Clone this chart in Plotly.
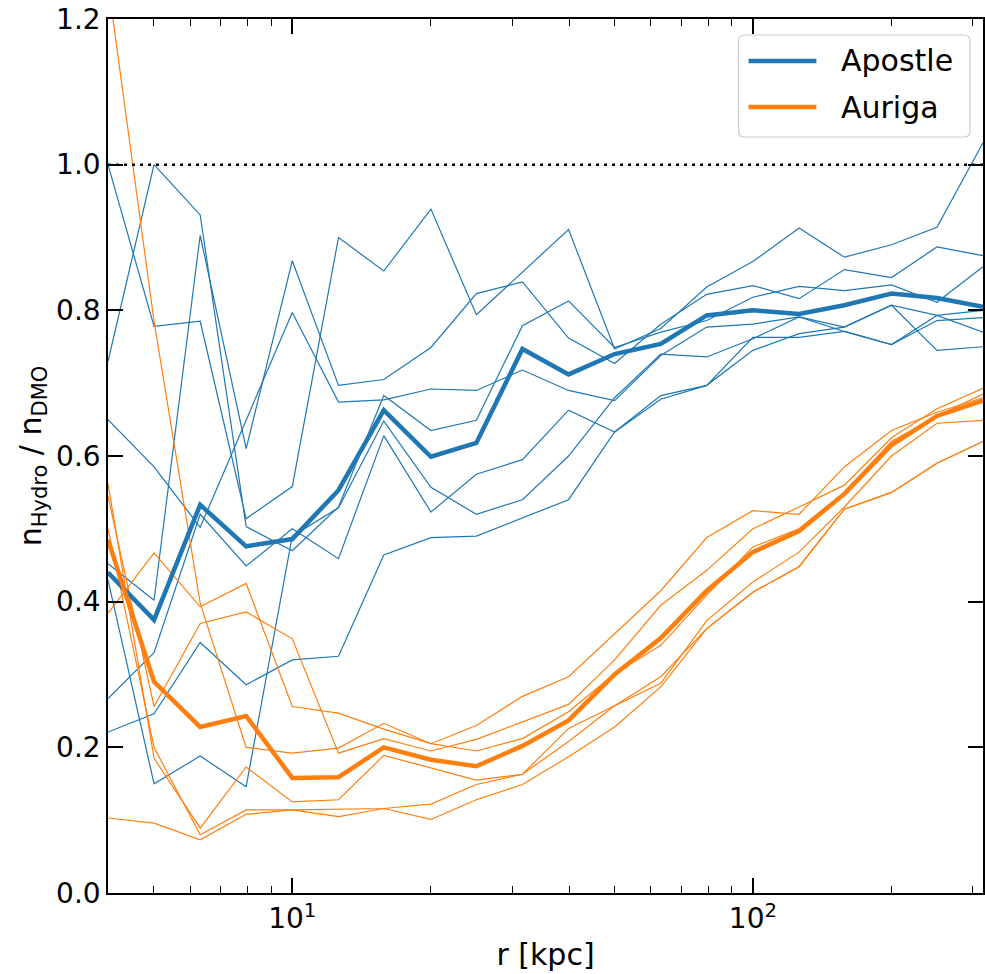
import numpy as np
import plotly.graph_objects as go

# Radial bins (kpc), logarithmically spaced
r = [3.98, 5.01, 6.31, 7.94, 10.0, 12.6, 15.8, 20.0, 25.1, 31.6,
     39.8, 50.1, 63.1, 79.4, 100.0, 126.0, 158.0, 200.0, 251.0, 316.0]

# Apostle: individual haloes
apostle_halos = [
    [1.000, 0.778, 0.785, 0.514, 0.558, 0.900, 0.854, 0.939, 0.794, 0.852,
     0.911, 0.747, 0.775, 0.832, 0.867, 0.913, 0.873, 0.890, 0.914, 1.030],
    [0.452, 0.402, 0.903, 0.610, 0.868, 0.697, 0.705, 0.749, 0.823, 0.839,
     0.762, 0.727, 0.781, 0.822, 0.834, 0.816, 0.856, 0.845, 0.887, 0.875],
    [0.730, 1.000, 0.931, 0.503, 0.470, 0.530, 0.683, 0.635, 0.649, 0.779,
     0.813, 0.749, 0.770, 0.786, 0.818, 0.833, 0.827, 0.835, 0.811, 0.860],
    [0.650, 0.585, 0.502, 0.650, 0.797, 0.674, 0.677, 0.692, 0.690, 0.718,
     0.690, 0.676, 0.738, 0.777, 0.781, 0.791, 0.777, 0.807, 0.793, 0.800],
    [0.267, 0.330, 0.520, 0.449, 0.500, 0.459, 0.628, 0.523, 0.575, 0.595,
     0.663, 0.633, 0.678, 0.697, 0.763, 0.763, 0.771, 0.753, 0.786, 0.790],
    [0.221, 0.246, 0.344, 0.286, 0.320, 0.325, 0.464, 0.488, 0.490, 0.515,
     0.540, 0.633, 0.683, 0.697, 0.745, 0.768, 0.777, 0.807, 0.745, 0.750],
    [0.430, 0.150, 0.188, 0.146, 0.490, 0.529, 0.648, 0.557, 0.520, 0.540,
     0.600, 0.680, 0.740, 0.736, 0.761, 0.791, 0.771, 0.753, 0.793, 0.770],
]
apostle_mean = [0.440, 0.375, 0.533, 0.476, 0.486, 0.553, 0.663, 0.599, 0.618, 0.747,
                0.712, 0.740, 0.754, 0.793, 0.800, 0.795, 0.807, 0.823, 0.817, 0.805]

# Auriga: individual haloes
auriga_halos = [
    [1.250, 0.785, 0.398, 0.200, 0.192, 0.199, 0.233, 0.205, 0.195, 0.212,
     0.249, 0.301, 0.340, 0.409, 0.475, 0.500, 0.550, 0.620, 0.655, 0.685],
    [0.384, 0.467, 0.393, 0.425, 0.256, 0.247, 0.225, 0.205, 0.230, 0.270,
     0.297, 0.356, 0.415, 0.488, 0.525, 0.520, 0.585, 0.635, 0.660, 0.680],
    [0.545, 0.256, 0.370, 0.386, 0.349, 0.192, 0.212, 0.195, 0.211, 0.235,
     0.259, 0.320, 0.395, 0.443, 0.500, 0.530, 0.560, 0.625, 0.665, 0.693],
    [0.562, 0.185, 0.089, 0.173, 0.125, 0.128, 0.189, 0.172, 0.155, 0.163,
     0.226, 0.257, 0.288, 0.374, 0.427, 0.468, 0.530, 0.600, 0.645, 0.649],
    [0.500, 0.200, 0.080, 0.114, 0.114, 0.115, 0.116, 0.122, 0.149, 0.163,
     0.208, 0.257, 0.297, 0.363, 0.413, 0.448, 0.527, 0.550, 0.590, 0.620],
    [0.103, 0.096, 0.073, 0.108, 0.114, 0.105, 0.116, 0.101, 0.128, 0.149,
     0.187, 0.228, 0.283, 0.363, 0.413, 0.448, 0.527, 0.550, 0.590, 0.620],
]
auriga_mean = [0.485, 0.290, 0.228, 0.243, 0.158, 0.159, 0.200, 0.183, 0.174, 0.202,
               0.237, 0.300, 0.350, 0.415, 0.468, 0.497, 0.548, 0.615, 0.655, 0.676]

legend_labels = ["Apostle", "Auriga"]

x_ticks = [10, 100]
x_ticktext = ["10<sup>1</sup>", "10<sup>2</sup>"]
x_minor = [4, 5, 6, 7, 8, 9, 20, 30, 40, 50, 60, 70, 80, 90, 200, 300]
y_ticks = [0.0, 0.2, 0.4, 0.6, 0.8, 1.0, 1.2]

BLUE = "#1f77b4"
ORANGE = "#ff7f0e"
FONT = "DejaVu Sans"

W, H = 985, 974
ML, MR, MT, MB = 108, 0, 19, 81
PW, PH = W - ML - MR, H - MT - MB


def px(xp):
    """pixel column -> paper x"""
    return (xp - ML) / PW


def py(yp):
    """pixel row -> paper y"""
    return (H - MB - yp) / PH


fig = go.Figure()

for halo in apostle_halos:
    fig.add_trace(go.Scatter(x=r, y=halo, mode="lines", showlegend=False,
                             line=dict(color=BLUE, width=1.2), hoverinfo="skip"))
for halo in auriga_halos:
    fig.add_trace(go.Scatter(x=r, y=halo, mode="lines", showlegend=False,
                             line=dict(color=ORANGE, width=1.2), hoverinfo="skip"))

# unity reference line
fig.add_trace(go.Scatter(x=[r[0], r[-1]], y=[1.0, 1.0], mode="lines", showlegend=False,
                         line=dict(color="black", width=2.5, dash="3px,5px")))

fig.add_trace(go.Scatter(x=r, y=apostle_mean, mode="lines", name=legend_labels[0],
                         showlegend=False, line=dict(color=BLUE, width=4.5)))
fig.add_trace(go.Scatter(x=r, y=auriga_mean, mode="lines", name=legend_labels[1],
                         showlegend=False, line=dict(color=ORANGE, width=4.5)))

axis_common = dict(showline=True, linecolor="black", linewidth=1.5, mirror="allticks",
                   ticks="inside", ticklen=15, tickwidth=1.5, tickcolor="black",
                   showgrid=False, zeroline=False,
                   tickfont=dict(family=FONT, size=28, color="black"))

fig.update_xaxes(type="log", range=[np.log10(3.98), np.log10(316.0)],
                 tickvals=x_ticks, ticktext=x_ticktext,
                 minor=dict(ticks="inside", ticklen=7, tickwidth=1.2, tickcolor="black",
                            tickvals=x_minor, showgrid=False),
                 title=dict(text="r [kpc]", font=dict(family=FONT, size=30, color="black"),
                            standoff=10),
                 **axis_common)
fig.update_yaxes(range=[0, 1.2], tickvals=y_ticks,
                 ticktext=[f"{v:.1f}" for v in y_ticks],
                 title=dict(text="n<sub>Hydro</sub> / n<sub>DMO</sub>",
                            font=dict(family=FONT, size=30, color="black"), standoff=6),
                 **axis_common)

# legend box drawn as a rounded frame with line samples and labels
bx0, bx1, by0, by1, rad = 740, 972, 35, 137, 6
rx, ry = rad / PW, rad / PH
x0, x1, y0, y1 = px(bx0), px(bx1), py(by1), py(by0)
path = (f"M {x0 + rx},{y0} L {x1 - rx},{y0} Q {x1},{y0} {x1},{y0 + ry} "
        f"L {x1},{y1 - ry} Q {x1},{y1} {x1 - rx},{y1} L {x0 + rx},{y1} "
        f"Q {x0},{y1} {x0},{y1 - ry} L {x0},{y0 + ry} Q {x0},{y0} {x0 + rx},{y0} Z")
shapes = [dict(type="path", path=path, xref="paper", yref="paper",
               fillcolor="rgba(255,255,255,0.8)", line=dict(color="#cccccc", width=1.2),
               layer="above")]
annotations = []
for label, color, rowy in zip(legend_labels, [BLUE, ORANGE], [61, 107]):
    shapes.append(dict(type="line", xref="paper", yref="paper",
                       x0=px(750), x1=px(818), y0=py(rowy), y1=py(rowy),
                       line=dict(color=color, width=4.5), layer="above"))
    annotations.append(dict(text=label, xref="paper", yref="paper",
                            x=px(841), y=py(rowy), xanchor="left", yanchor="middle",
                            showarrow=False,
                            font=dict(family=FONT, size=30, color="black")))

fig.update_layout(
    width=W, height=H,
    margin=dict(l=ML, r=MR, t=MT, b=MB),
    plot_bgcolor="white", paper_bgcolor="white",
    font=dict(family=FONT, color="black"),
    showlegend=False,
    shapes=shapes,
    annotations=annotations,
)

fig.write_html("out.html")
